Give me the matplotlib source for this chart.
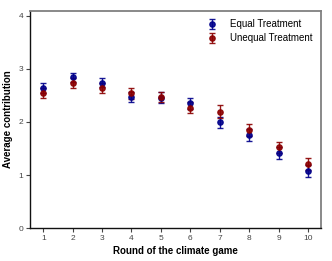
import numpy as np
import matplotlib.pyplot as plt

plt.rcParams["font.family"] = ["Liberation Sans", "DejaVu Sans"]

rounds = [1, 2, 3, 4, 5, 6, 7, 8, 9, 10]
equal_mean = [2.64, 2.84, 2.74, 2.47, 2.46, 2.35, 1.99, 1.75, 1.42, 1.08]
equal_err = [0.09, 0.09, 0.09, 0.10, 0.10, 0.10, 0.10, 0.11, 0.11, 0.11]
unequal_mean = [2.55, 2.73, 2.64, 2.54, 2.47, 2.27, 2.19, 1.85, 1.52, 1.21]
unequal_err = [0.09, 0.09, 0.10, 0.10, 0.10, 0.11, 0.12, 0.12, 0.11, 0.11]

fig = plt.figure(figsize=(3.32, 2.61), dpi=100)
ax = fig.add_axes([0.0904, 0.126, 0.877, 0.832])

ax.errorbar(rounds, equal_mean, yerr=equal_err, fmt="o", color="#00008b",
            markersize=3.8, capsize=2.2, elinewidth=1, capthick=1,
            label="Equal Treatment", alpha=0.9)
ax.errorbar(rounds, unequal_mean, yerr=unequal_err, fmt="o", color="#8b0000",
            markersize=3.8, capsize=2.2, elinewidth=1, capthick=1,
            label="Unequal Treatment", alpha=0.9)

ax.set_xlim(0.55, 10.45)
ax.set_ylim(0, 4.09)
ax.set_xticks(rounds)
ax.set_yticks([0, 1, 2, 3, 4])
ax.tick_params(direction="out", length=3, width=0.8, labelsize=6,
               labelcolor="#444444", color="#444444", pad=2)

ax.set_xlabel("Round of the climate game", fontsize=7, fontweight="bold", labelpad=3)
ax.set_ylabel("Average contribution", fontsize=7, fontweight="bold", labelpad=4)

for side in ["left", "bottom"]:
    ax.spines[side].set_color("#111111")
    ax.spines[side].set_linewidth(1.0)
for side in ["top", "right"]:
    ax.spines[side].set_color("#808080")
    ax.spines[side].set_linewidth(1.3)

ax.legend(loc="upper right", bbox_to_anchor=(0.983, 0.98), borderaxespad=0,
          frameon=False, fontsize=7, handletextpad=0.85, labelspacing=0.4)

fig.savefig("out.png", dpi=100)
